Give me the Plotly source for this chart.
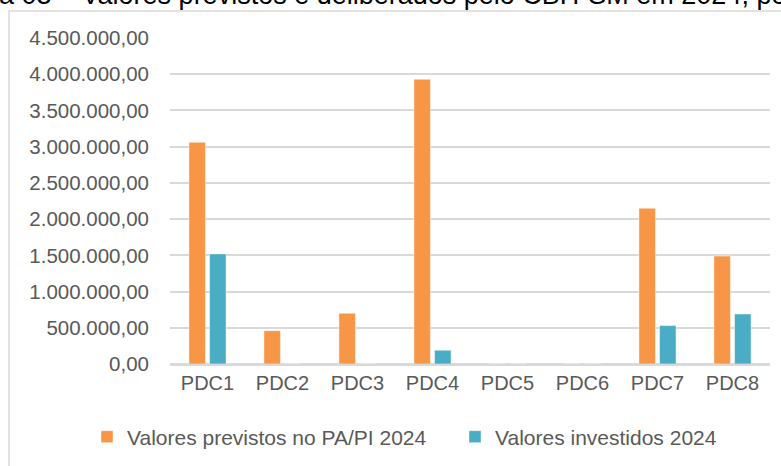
import plotly.graph_objects as go

categories = ["PDC1", "PDC2", "PDC3", "PDC4", "PDC5", "PDC6", "PDC7", "PDC8"]
previstos = [3060000, 460000, 700000, 3930000, 0, 0, 2150000, 1490000]
investidos = [1520000, 0, 0, 190000, 0, 0, 530000, 690000]
series_names = ["Valores previstos no PA/PI 2024", "Valores investidos 2024"]
y_ticks = [0, 500000, 1000000, 1500000, 2000000, 2500000, 3000000, 3500000, 4000000, 4500000]
title_text = "a 03 – Valores previstos e deliberados pelo CBH-SM em 2024, po"


def fmt_br(v):
    s = f"{v:,.2f}"
    return s.replace(",", "X").replace(".", ",").replace("X", ".")


y_ticktext = [fmt_br(v) for v in y_ticks]

W, H = 781, 466
L, R, T, B = 170, 11, 37.5, 102
PW = W - L - R
PH = H - T - B


def px_x(px):
    return (px - L) / PW


def px_y(py):
    return (H - B - py) / PH


FONT = "Liberation Sans, Arial, sans-serif"
GRAY = "#595959"

fig = go.Figure()
fig.add_trace(go.Bar(
    x=categories, y=previstos, name=series_names[0], legend="legend",
    marker=dict(color="#F79646", line=dict(color="rgba(255,255,255,0.45)", width=1)),
))
fig.add_trace(go.Bar(
    x=categories, y=investidos, name=series_names[1], legend="legend2",
    marker=dict(color="#4BACC6", line=dict(color="rgba(255,255,255,0.45)", width=1)),
))

legend_common = dict(
    orientation="h", xanchor="left", yanchor="middle",
    xref="container", yref="container",
    font=dict(family=FONT, color=GRAY, size=21),
    bgcolor="rgba(0,0,0,0)", borderwidth=0,
)

fig.update_layout(
    width=W, height=H,
    margin=dict(l=L, r=R, t=T, b=B, pad=0, autoexpand=False),
    paper_bgcolor="white", plot_bgcolor="white",
    barmode="group", bargap=0.45, bargroupgap=0.2,
    font=dict(family=FONT, color=GRAY, size=20),
    showlegend=True,
    legend=dict(x=87 / W, y=1 - 437 / H, **legend_common),
    legend2=dict(x=455 / W, y=1 - 437 / H, **legend_common),
    xaxis=dict(
        showgrid=False, showline=True, linecolor="#D9D9D9", linewidth=1.5,
        ticks="", tickfont=dict(family=FONT, color=GRAY, size=20),
        ticklabelstandoff=0,
    ),
    yaxis=dict(
        range=[0, 4500000], tickvals=y_ticks, ticktext=y_ticktext,
        showgrid=True, gridcolor="#D9D9D9", gridwidth=1.5,
        zeroline=True, zerolinecolor="#D9D9D9", zerolinewidth=1.5,
        showline=False, ticks="", tickfont=dict(family=FONT, color=GRAY, size=20.5),
        ticklabelstandoff=20,
    ),
    shapes=[dict(
        type="rect", xref="paper", yref="paper",
        x0=px_x(9), x1=px_x(800), y0=px_y(480), y1=px_y(10.5),
        line=dict(color="#D9D9D9", width=1.5), fillcolor="rgba(0,0,0,0)", layer="below",
    )],
    annotations=[dict(
        text=title_text, xref="paper", yref="paper",
        x=px_x(-3), xanchor="left", y=px_y(11), yanchor="bottom",
        showarrow=False, font=dict(family=FONT, color="black", size=27),
    )],
)

fig.write_html("out.html", config={"displayModeBar": False},
               post_script="document.body.style.margin='0';")
